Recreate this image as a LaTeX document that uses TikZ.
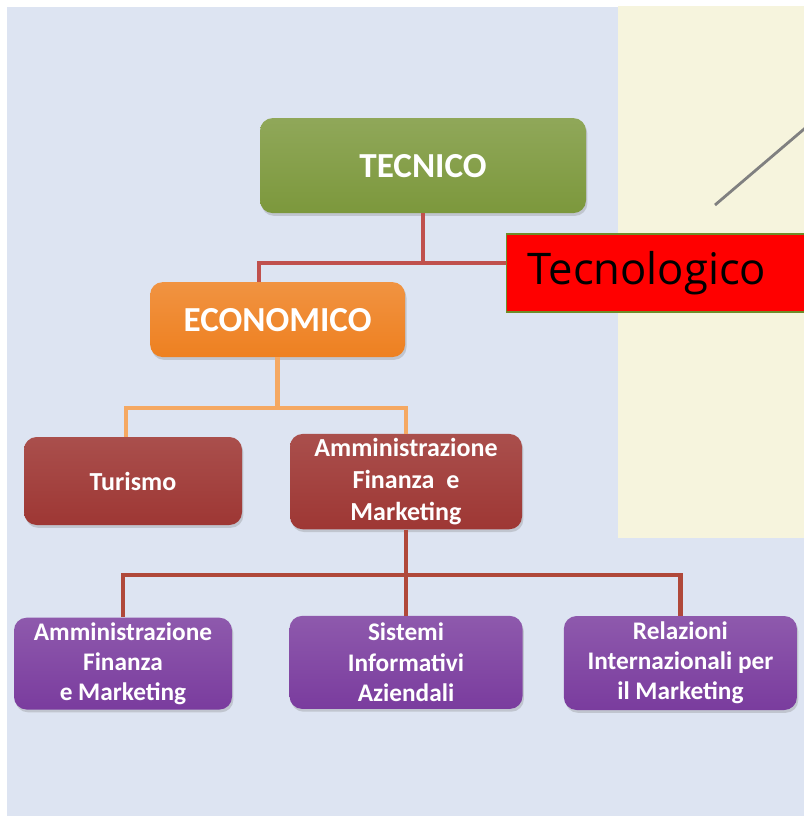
\documentclass[tikz,border=0pt]{standalone}
\usepackage{fontspec}
\setmainfont{Carlito}
\newfontfamily\segoefont{Open Sans}
\usetikzlibrary{positioning,shadows,calc}

\definecolor{panelblue}{RGB}{221,228,242}
\definecolor{panelcream}{RGB}{246,244,221}
\definecolor{tecgreen}{RGB}{124,152,60}
\definecolor{ecoorange}{RGB}{238,128,32}
\definecolor{indred}{RGB}{158,55,52}
\definecolor{artpurple}{RGB}{122,60,158}
\definecolor{linkred}{RGB}{192,80,77}
\definecolor{linkorange}{RGB}{245,168,98}
\definecolor{linkdark}{RGB}{176,72,58}
\definecolor{tecborder}{RGB}{110,140,40}

\tikzset{
  box/.style={rectangle,rounded corners=9pt,text=white,font=\bfseries,align=center,
    drop shadow={opacity=0.3,shadow xshift=1pt,shadow yshift=-2pt}},
  bigtext/.style={font=\bfseries\fontsize{25}{30}\selectfont},
  midtext/.style={font=\bfseries\fontsize{18.5}{22.5}\selectfont},
  lowtext/.style={font=\bfseries\fontsize{18}{21.5}\selectfont},
  link/.style={line width=3pt},
}

\begin{document}
\begin{tikzpicture}
\useasboundingbox (0,0) rectangle (20.1,-20.525);
% panels
\fill[white] (0,0) rectangle (20.1,-20.525);
\fill[panelblue] (0.175,-0.175) rectangle (20.1,-20.4);
\fill[panelcream] (15.45,-0.15) rectangle (20.1,-13.45);
\coordinate (g1) at (17.875,-5.125);
\coordinate (g2) at (20.25,-3.1);
\draw[gray,line width=2pt] (g1) -- (g2);

% indirizzi
\node[box,bigtext,top color=tecgreen!85!white,bottom color=tecgreen,minimum width=8.15cm,minimum height=2.375cm] (tec) at (10.575,-4.14) {TECNICO};
\node[box,bigtext,top color=ecoorange!85!white,bottom color=ecoorange,minimum width=6.375cm,minimum height=1.875cm] (eco) at (6.94,-7.99) {ECONOMICO};
\node[rectangle,draw=tecborder,thick,fill=red,anchor=west,minimum height=1.95cm,text width=6.45cm,inner xsep=0.525cm,align=left,font=\segoefont\fontsize{31}{36}\selectfont] (tecno) at (12.65,-6.825) {Tecnologico};

% articolazioni
\node[box,midtext,top color=indred!88!white,bottom color=indred,minimum width=5.45cm,minimum height=2.2cm] (tur) at (3.325,-12.025) {Turismo};
\node[box,midtext,top color=indred!88!white,bottom color=indred,minimum width=5.8cm,minimum height=2.325cm] (afm) at (10.15,-12.04) {Amministrazione\\Finanza\ \ e\\Marketing};

\node[box,lowtext,top color=artpurple!85!white,bottom color=artpurple,minimum width=5.45cm,minimum height=2.175cm] (afm2) at (3.075,-16.59) {Amministrazione\\Finanza\\e Marketing};
\node[box,lowtext,top color=artpurple!85!white,bottom color=artpurple,minimum width=5.825cm,minimum height=2.325cm] (sia) at (10.15,-16.56) {Sistemi\\Informativi\\Aziendali};
\node[box,lowtext,top color=artpurple!85!white,bottom color=artpurple,minimum width=5.825cm,minimum height=2.35cm] (rim) at (17.01,-16.575) {Relazioni\\Internazionali per\\il Marketing};

% collegamenti
\coordinate (j1) at (10.575,-6.575);
\coordinate (j2) at (6.94,-10.2);
\coordinate (j3) at (10.15,-14.375);
\draw[link,linkred] (tec) -- (j1);
\draw[link,linkred] (j1) -| ([xshift=-0.46cm]eco.north);
\draw[link,linkred] (j1) -- (j1 -| tecno.west);
\draw[link,linkorange] (eco) -- (j2);
\draw[link,linkorange] (j2) -| ([xshift=-0.18cm]tur.north);
\draw[link,linkorange] (j2) -| (afm.north);
\draw[link,linkdark] (afm) -- (j3);
\draw[link,linkdark] (j3) -| (afm2.north);
\draw[link,linkdark] (j3) -- (sia);
\draw[link,linkdark] (j3) -| (rim.north);

\end{tikzpicture}
\end{document}
